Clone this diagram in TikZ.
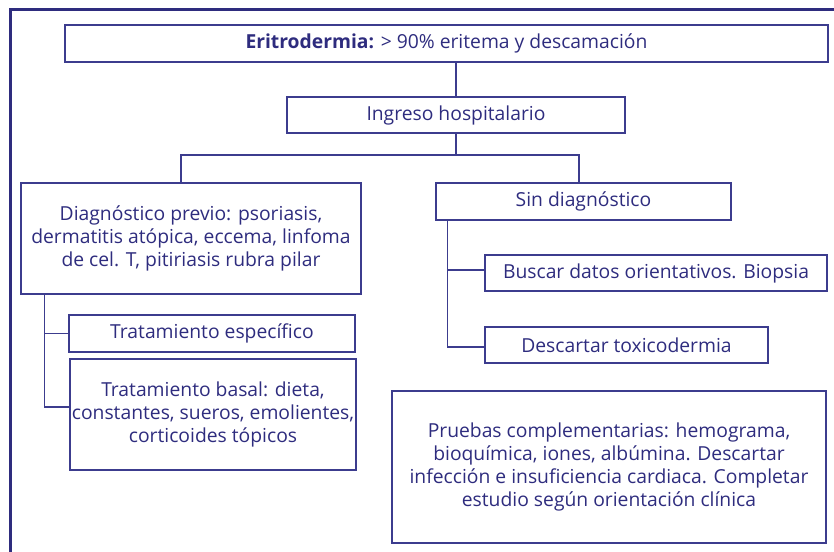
\documentclass[tikz,border=0pt]{standalone}
\usepackage{fontspec}
\setmainfont{Open Sans}
\definecolor{navy}{HTML}{2E2C7E}
\definecolor{lnavy}{HTML}{3C3C8E}
\begin{document}
\begin{tikzpicture}[x=1pt,y=-1pt,
  box/.style={draw=lnavy, line width=1.4pt, inner sep=0pt, align=center, text=navy,
    font=\fontsize{19.3}{23.3}\selectfont},
  conn/.style={draw=lnavy, line width=1.4pt}]
\useasboundingbox (0,0) rectangle (834,551);
\clip (0,0) rectangle (834,551);
\draw[navy, line width=2.8pt] (10.5,9.7) rectangle (860,580);
\node[box, minimum width=763pt, minimum height=37pt] (e) at (446.5,43.5) {\textbf{Eritrodermia:} > 90\% eritema y descamación};
\node[box, minimum width=338pt, minimum height=36pt] (i) at (456,115) {Ingreso hospitalario};
\node[box, minimum width=340pt, minimum height=111pt] (d) at (191,238.5) {Diagnóstico previo: psoriasis,\\dermatitis atópica, eccema, linfoma\\de cel. T, pitiriasis rubra pilar};
\node[box, minimum width=295pt, minimum height=37pt] (s) at (583.5,201.5) {Sin diagnóstico};
\node[box, minimum width=286pt, minimum height=37pt] (te) at (212,333.5) {Tratamiento específico};
\node[box, minimum width=286pt, minimum height=111pt] (tb) at (213,414.5) {Tratamiento basal: dieta,\\constantes, sueros, emolientes,\\corticoides tópicos};
\node[box, minimum width=342pt, minimum height=36pt] (b) at (656,273) {Buscar datos orientativos. Biopsia};
\node[box, minimum width=283pt, minimum height=36pt] (dt) at (626.5,345) {Descartar toxicodermia};
\node[box, minimum width=434pt, minimum height=152pt] (p) at (609,467) {Pruebas complementarias: hemograma,\\bioquímica, iones, albúmina. Descartar\\infección e insuficiencia cardiaca. Completar\\estudio según orientación clínica};
\coordinate (fork) at (456,155);
\draw[conn] (e.south -| i.north) -- (i.north);
\draw[conn] (i.south) -- (fork);
\draw[conn] (fork) -| ([xshift=-10pt]d.north);
\draw[conn] (fork) -| ([xshift=-4.5pt]s.north);
\draw[conn] ([xshift=24pt]d.south west) |- (te.west);
\draw[conn] ([xshift=24pt]d.south west) |- ([yshift=7.5pt]tb.west);
\draw[conn] ([xshift=12pt]s.south west) |- ([yshift=3pt]b.west);
\draw[conn] ([xshift=12pt]s.south west) |- ([yshift=-2pt]dt.west);
\end{tikzpicture}
\end{document}
